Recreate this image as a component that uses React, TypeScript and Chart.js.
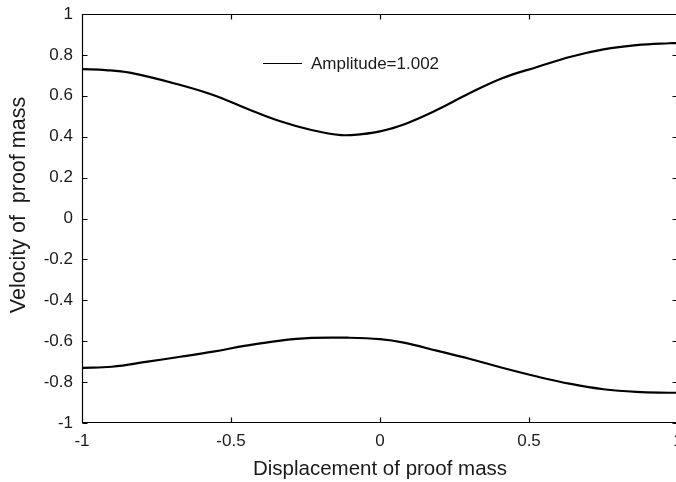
import React, { useEffect, useRef } from "react";
import { Chart, registerables } from "chart.js";

Chart.register(...registerables);

const seriesLabel = "Amplitude=1.002";
const xTitle = "Displacement of proof mass";
const yTitle = "Velocity of  proof mass";

const upperX = [-1, -0.92, -0.84, -0.67, -0.56, -0.45, -0.34, -0.23, -0.13, -0.06, 0, 0.08, 0.19, 0.3, 0.41, 0.53, 0.64, 0.75, 0.86, 0.97, 1];
const upperY = [0.73, 0.726, 0.713, 0.653, 0.604, 0.539, 0.478, 0.433, 0.408, 0.413, 0.426, 0.46, 0.53, 0.612, 0.686, 0.742, 0.791, 0.827, 0.848, 0.857, 0.857];
const lowerX = [-1, -0.9, -0.78, -0.67, -0.56, -0.45, -0.34, -0.23, -0.11, 0, 0.08, 0.19, 0.3, 0.41, 0.53, 0.64, 0.75, 0.86, 0.97, 1];
const lowerY = [-0.73, -0.725, -0.7, -0.676, -0.651, -0.622, -0.598, -0.584, -0.583, -0.59, -0.607, -0.646, -0.686, -0.73, -0.774, -0.809, -0.835, -0.848, -0.852, -0.852];

const xMin = -1, xMax = 1, xStep = 0.5;
const yMin = -1, yMax = 1, yStep = 0.2;

const FONT = "'Liberation Sans', Arial, Helvetica, sans-serif";
const TEXT = "#1a1a1a";

const framePlugin = {
  id: "frame",
  afterDraw(chart: any) {
    const { ctx, chartArea: a, scales } = chart;
    const xs = scales.x, ys = scales.y;
    const L = Math.round(a.left) + 0.5, R = Math.round(a.right) - 0.5;
    const T = Math.round(a.top) + 0.5, B = Math.round(a.bottom) - 0.5;
    ctx.save();
    ctx.setLineDash([]);
    ctx.strokeStyle = "#000000";
    ctx.lineWidth = 1.2;
    ctx.beginPath();
    ctx.moveTo(L, T); ctx.lineTo(R, T); ctx.lineTo(R, B); ctx.lineTo(L, B); ctx.closePath();
    const tl = 5;
    xs.ticks.forEach((t: any) => {
      const px = Math.round(xs.getPixelForValue(t.value)) + 0.5;
      ctx.moveTo(px, B); ctx.lineTo(px, B - tl);
      ctx.moveTo(px, T); ctx.lineTo(px, T + tl);
    });
    ys.ticks.forEach((t: any) => {
      const py = Math.round(ys.getPixelForValue(t.value)) + 0.5;
      ctx.moveTo(L, py); ctx.lineTo(L + tl, py);
      ctx.moveTo(R, py); ctx.lineTo(R - tl, py);
    });
    ctx.stroke();

    // legend
    const ds = chart.data.datasets[0];
    const ly = a.top + 49;
    ctx.beginPath();
    ctx.lineWidth = 1;
    ctx.moveTo(a.left + 181, ly + 0.5);
    ctx.lineTo(a.left + 220, ly + 0.5);
    ctx.stroke();
    ctx.fillStyle = TEXT;
    ctx.font = `17px ${FONT}`;
    ctx.textAlign = "left";
    ctx.textBaseline = "middle";
    ctx.fillText(ds.label, a.left + 229, ly + 1);

    // axis titles
    ctx.font = `20.5px ${FONT}`;
    ctx.textAlign = "center";
    ctx.textBaseline = "alphabetic";
    ctx.fillText(xTitle, (a.left + a.right) / 2, a.bottom + 52);
    ctx.save();
    ctx.font = `21.5px ${FONT}`;
    ctx.translate(25, 205);
    ctx.rotate(-Math.PI / 2);
    ctx.fillText(yTitle, 0, 0);
    ctx.restore();
    ctx.restore();
  },
};

export default function App() {
  const ref = useRef<HTMLCanvasElement | null>(null);
  useEffect(() => {
    document.body.style.overflow = "hidden";
    const canvas = ref.current!;
    const mk = (xs: number[], ys: number[]) => xs.map((x, i) => ({ x, y: ys[i] }));
    const chart = new Chart(canvas, {
      type: "line",
      data: {
        datasets: [
          {
            label: seriesLabel,
            data: mk(upperX, upperY),
            borderColor: "#000",
            borderWidth: 2.2,
            pointRadius: 0,
            fill: false,
            tension: 0.4,
          },
          {
            label: seriesLabel,
            data: mk(lowerX, lowerY),
            borderColor: "#000",
            borderWidth: 2.2,
            pointRadius: 0,
            fill: false,
            tension: 0.4,
          },
        ],
      },
      options: {
        animation: false,
        responsive: false,
        maintainAspectRatio: false,
        layout: { padding: { top: 14, right: 12, left: 0, bottom: 0 } },
        plugins: { legend: { display: false }, tooltip: { enabled: false } },
        scales: {
          x: {
            type: "linear",
            min: xMin,
            max: xMax,
            grid: { display: false, drawTicks: false },
            border: { display: false },
            ticks: {
              stepSize: xStep,
              padding: 8,
              color: TEXT,
              font: { family: FONT, size: 17 },
              maxRotation: 0,
              callback: (v: any) => String(Number(Number(v).toFixed(2))),
            },
            afterFit: (s: any) => { s.height = 59; s.paddingLeft = 0; s.paddingRight = 0; },
          },
          y: {
            type: "linear",
            min: yMin,
            max: yMax,
            grid: { display: false, drawTicks: false },
            border: { display: false },
            ticks: {
              stepSize: yStep,
              padding: 9,
              color: TEXT,
              font: { family: FONT, size: 17 },
              callback: (v: any) => String(Number(Number(v).toFixed(1))),
            },
            afterFit: (s: any) => { s.width = 82; s.paddingTop = 0; s.paddingBottom = 0; },
          },
        },
      } as any,
      plugins: [framePlugin],
    });
    return () => chart.destroy();
  }, []);
  return (
    <div style={{ position: "absolute", left: 0, top: 0, width: 676, height: 482, overflow: "hidden", background: "#fff" }}>
      <canvas ref={ref} width={690} height={482} style={{ width: 690, height: 482, display: "block" }} />
    </div>
  );
}
